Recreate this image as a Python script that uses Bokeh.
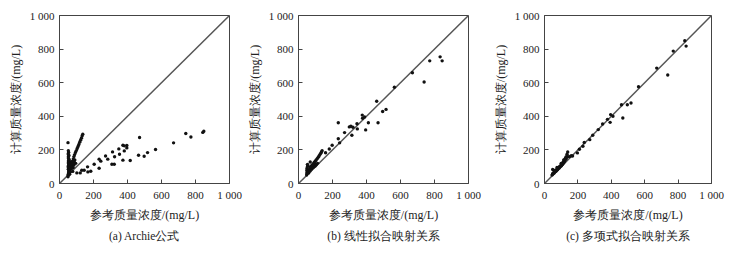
from bokeh.plotting import figure
from bokeh.models import FixedTicker, Range1d, Title
from bokeh.layouts import row
from bokeh.embed import file_html
from bokeh.resources import INLINE

# ---------------- data ----------------
ticks = [0, 200, 400, 600, 800, 1000]
tick_labels = {0: "0", 200: "200", 400: "400", 600: "600", 800: "800", 1000: "1 000"}
diag = [0, 1000]

x_title = "参考质量浓度/(mg/L)"
y_title = "计算质量浓度/(mg/L)"
captions = ["(a) Archie公式", "(b) 线性拟合映射关系", "(c) 多项式拟合映射关系"]

# (a) Archie
a_x = [50, 51, 52, 53, 54, 55, 52, 53, 51, 54, 55, 52, 53, 54, 56, 52, 53, 55, 51, 54, 52, 50,
       58, 60, 62, 65, 66, 70, 72, 75, 78, 80, 85, 88, 60, 64, 68, 90, 95,
       65, 69, 73, 77, 81, 85, 89, 94, 99, 104, 109, 114, 119, 124, 129, 133, 137,
       102, 122, 131, 145, 165, 167, 184, 204, 233, 233, 243, 271, 284, 308, 322, 312,
       324, 349, 353, 373, 381, 381, 396, 396, 373, 416, 465, 471, 498, 518, 565, 671,
       743, 773, 843, 849]
a_y = [40, 48, 55, 62, 70, 78, 85, 92, 100, 108, 115, 122, 130, 138, 145, 152, 160, 168, 176, 185, 195, 243,
       65, 80, 95, 110, 125, 88, 100, 115, 72, 95, 110, 125, 55, 70, 130, 140, 120,
       95, 105, 118, 132, 146, 160, 172, 185, 196, 208, 220, 232, 246, 258, 270, 283, 293,
       63, 63, 79, 79, 99, 69, 73, 115, 145, 91, 133, 164, 145, 115, 115, 188,
       159, 206, 174, 228, 224, 194, 212, 226, 139, 137, 168, 274, 162, 184, 202, 242,
       298, 277, 304, 311]

# (b) linear fit
b_x = [48, 50, 51, 52, 53, 50, 52, 54, 53, 51, 55, 49,
       58, 62, 66, 70, 75, 80, 85, 90, 95, 60, 68, 78, 88, 98, 105, 112,
       70, 78, 85, 92, 98, 104, 110, 116, 121, 126, 131, 135, 139,
       833, 845, 772, 739, 670, 564, 460, 515, 495, 468, 411, 395, 375, 377, 389, 344,
       346, 320, 314, 299, 308, 271, 234, 234, 242, 198, 181, 159, 69]
b_y = [50, 58, 66, 74, 82, 90, 98, 106, 114, 62, 70, 78,
       70, 78, 84, 90, 95, 100, 106, 112, 118, 62, 74, 86, 96, 104, 112, 120,
       100, 108, 116, 125, 133, 140, 148, 156, 164, 172, 180, 188, 195,
       754, 730, 730, 604, 659, 573, 490, 441, 429, 362, 362, 319, 407, 388, 396, 356,
       325, 335, 287, 337, 341, 303, 362, 266, 242, 228, 205, 183, 128]

# (c) polynomial fit
c_x = [45, 48, 50, 52, 55, 58, 60, 62, 65, 68, 70, 72, 75, 78, 80, 82, 85, 88, 90, 92, 95, 98,
       100, 103, 105, 108, 110, 113, 115, 118, 120, 122, 125, 128, 130, 132, 49, 60, 75, 100,
       115, 140, 150, 160,
       840, 848, 771, 738, 672, 563, 496, 518, 469, 461, 396, 393, 410, 377, 348, 322,
       289, 271, 238, 230, 209, 197, 168, 139, 135]
c_y = [50, 55, 60, 58, 65, 62, 70, 68, 75, 72, 80, 78, 85, 82, 90, 88, 95, 92, 100, 98, 105, 102,
       110, 108, 118, 115, 125, 122, 130, 128, 140, 135, 150, 145, 160, 155, 83, 78, 95, 120,
       140, 160, 160, 165,
       850, 818, 788, 646, 687, 576, 469, 479, 390, 469, 410, 364, 400, 382, 354, 321,
       287, 261, 244, 222, 204, 182, 164, 188, 174]

SERIF = "Liberation Serif"
INK = "#222222"


def panel(xs, ys, caption, width, left, right):
    p = figure(width=width, height=253, output_backend="svg", toolbar_location=None,
               x_range=Range1d(0, 1000), y_range=Range1d(0, 1000),
               min_border_left=left, min_border_right=right,
               min_border_top=15, min_border_bottom=70)
    p.background_fill_color = None
    p.border_fill_color = "white"
    p.grid.visible = False
    p.outline_line_color = "#444444"
    p.outline_line_width = 1
    for ax in (p.xaxis[0], p.yaxis[0]):
        ax.ticker = FixedTicker(ticks=ticks)
        ax.major_label_overrides = tick_labels
        ax.major_tick_in = 4
        ax.major_tick_out = 0
        ax.minor_tick_line_color = None
        ax.axis_line_color = "#444444"
        ax.major_tick_line_color = "#444444"
        ax.major_label_text_font = SERIF
        ax.major_label_text_font_size = "11px"
        ax.major_label_text_color = INK
        ax.axis_label_text_font = SERIF
        ax.axis_label_text_font_size = "12px"
        ax.axis_label_text_font_style = "normal"
        ax.axis_label_text_color = INK
    p.xaxis.axis_label = x_title
    p.yaxis.axis_label = y_title
    p.xaxis.major_label_standoff = 5
    p.yaxis.major_label_standoff = 5
    p.xaxis.axis_label_standoff = 4
    p.yaxis.axis_label_standoff = 4
    p.line(diag, diag, line_color="#555555", line_width=1.5)
    p.scatter(xs, ys, size=3.4, color="#111111", line_width=0)
    t = Title(text=caption, align="center", text_font=SERIF, text_font_size="11.5px",
              text_font_style="normal", text_color=INK, standoff=6)
    p.add_layout(t, "below")
    return p


pa = panel(a_x, a_y, captions[0], 244, 59, 15)
pb = panel(b_x, b_y, captions[1], 246, 54, 22)
pc = panel(c_x, c_y, captions[2], 262, 51, 41)

layout = row(pa, pb, pc, spacing=0)
open("out.html", "w").write(file_html(layout, INLINE))
